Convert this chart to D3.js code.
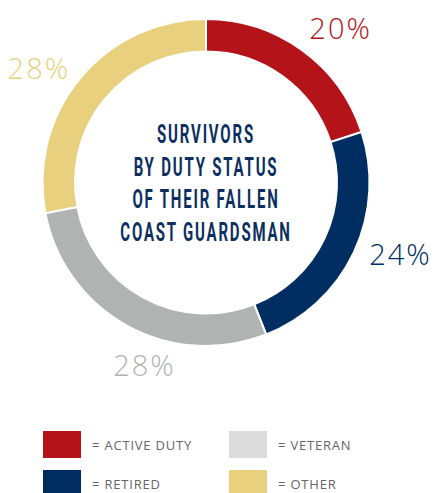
<!DOCTYPE html>
<html><head><meta charset="utf-8">
<script src="https://cdn.jsdelivr.net/npm/d3@7"></script>
<style>
html,body{margin:0;padding:0;background:#fff;}
svg{display:block;}
</style></head>
<body>
<script>
// ---- data ----
const categories = ["ACTIVE DUTY", "RETIRED", "VETERAN", "OTHER"];
const values = [20, 24, 28, 28];
const valueLabels = ["20%", "24%", "28%", "28%"];
const titleLines = ["SURVIVORS", "BY DUTY STATUS", "OF THEIR FALLEN", "COAST GUARDSMAN"];
const legendOrder = ["ACTIVE DUTY", "VETERAN", "RETIRED", "OTHER"];

// ---- styles / layout ----
const W = 436, H = 493;
const cx = 206, cy = 182.5, rOuter = 163.5, rInner = 131;
const sliceColor = d3.scaleOrdinal().domain(categories)
  .range(["#b31319", "#002e62", "#b1b3b2", "#e8d07e"]);
const labelColor = d3.scaleOrdinal().domain(categories)
  .range(["#b31319", "#002e62", "#b1b3b2", "#e8d07e"]);
const legendColor = d3.scaleOrdinal().domain(categories)
  .range(["#b31319", "#002e62", "#dcdcdc", "#e8d07e"]);
const labelFrac = {"ACTIVE DUTY": 0.57, "RETIRED": 0.44, "VETERAN": 0.4, "OTHER": 0.45};
const labelRad = {"ACTIVE DUTY": 205, "RETIRED": 207, "VETERAN": 192, "OTHER": 203};

const svg = d3.select("body").append("svg").attr("width", W).attr("height", H);
const g = svg.append("g").attr("transform", `translate(${cx},${cy})`);

const data = categories.map((c, i) => ({cat: c, value: values[i], label: valueLabels[i]}));
const pie = d3.pie().value(d => d.value).sort(null).startAngle(0).endAngle(2 * Math.PI);
const arcs = pie(data);
const arc = d3.arc().innerRadius(rInner).outerRadius(rOuter);

g.selectAll("path.slice").data(arcs).join("path")
  .attr("class", "slice")
  .attr("d", arc)
  .attr("fill", d => sliceColor(d.data.cat))
  .attr("stroke", "#fff").attr("stroke-width", 2);

g.selectAll("text.pct").data(arcs).join("text")
  .attr("class", "pct")
  .each(function(d) {
    const a = d.startAngle + (d.endAngle - d.startAngle) * labelFrac[d.data.cat];
    const r = labelRad[d.data.cat];
    d3.select(this).attr("x", r * Math.sin(a)).attr("y", -r * Math.cos(a));
  })
  .attr("text-anchor", "middle").attr("dominant-baseline", "central")
  .attr("font-family", "'Open Sans', sans-serif").attr("font-weight", 300)
  .attr("font-size", 29).attr("letter-spacing", 2)
  .attr("fill", d => labelColor(d.data.cat))
  .text(d => d.data.label);

// title (condensed look via horizontal scale)
const lineH = 32.5, squeeze = 0.6;
g.selectAll("text.title").data(titleLines).join("text")
  .attr("class", "title")
  .attr("transform", (d, i) => `translate(0,${(i - (titleLines.length - 1) / 2) * lineH + 1}) scale(${squeeze},1)`)
  .attr("text-anchor", "middle").attr("dominant-baseline", "central")
  .attr("font-family", "Roboto, 'Liberation Sans', sans-serif")
  .attr("font-weight", 700).attr("font-size", 25).attr("letter-spacing", 3)
  .attr("fill", "#0d2f5f")
  .text(d => d);

// legend
const legend = svg.append("g");
const colX = d3.scalePoint().domain([0, 1]).range([43, 229]);
const rowY = d3.scalePoint().domain([0, 1]).range([431, 470]);
const items = legend.selectAll("g.item").data(legendOrder).join("g")
  .attr("class", "item")
  .attr("transform", (d, i) => `translate(${colX(i % 2)},${rowY(Math.floor(i / 2))})`);
items.append("rect").attr("width", 38).attr("height", 27)
  .attr("fill", d => legendColor(d));
items.append("text").attr("x", 49).attr("y", 14)
  .attr("dominant-baseline", "central")
  .attr("font-family", "'Open Sans', sans-serif").attr("font-size", 13)
  .attr("letter-spacing", 0.8).attr("fill", "#666666")
  .text(d => "= " + d);
</script>
</body></html>
